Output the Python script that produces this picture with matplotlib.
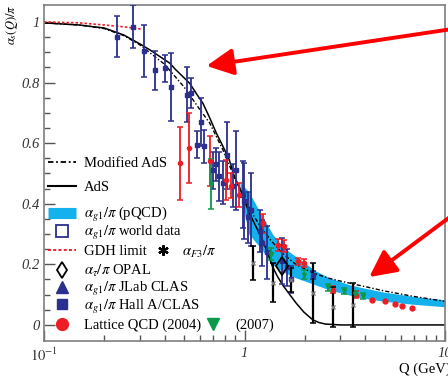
import numpy as np
import matplotlib.pyplot as plt
from matplotlib.lines import Line2D
from matplotlib.legend import Legend

plt.rcParams['font.family'] = ['Liberation Serif', 'DejaVu Sans']
plt.rcParams['mathtext.fontset'] = 'stix'

# curvas AdS
ads_q = [0.1, 0.15, 0.2, 0.25, 0.3, 0.337, 0.424, 0.45, 0.532, 0.58, 0.62, 0.67, 0.724, 0.78,
         0.84, 0.89, 0.95, 1.055, 1.14, 1.23, 1.3, 1.38, 1.46, 1.55, 1.66, 1.81, 1.98, 2.19,
         2.35, 2.53, 3.0, 10.0]
ads_v = [0.997, 0.99, 0.98, 0.957, 0.928, 0.908, 0.864, 0.845, 0.798, 0.76, 0.732, 0.684, 0.633,
         0.59, 0.545, 0.49, 0.45, 0.37, 0.325, 0.28, 0.24, 0.192, 0.16, 0.132, 0.105, 0.072,
         0.042, 0.017, 0.008, 0.003, 0.0, 0.0]

mod_q = [0.1, 0.15, 0.2, 0.25, 0.3, 0.4, 0.5, 0.6, 0.67, 0.78, 0.9, 1.0, 1.1, 1.2, 1.35, 1.55,
         1.8, 2.19, 2.6, 3.0, 3.5, 5.0, 7.0, 10.0]
mod_v = [0.997, 0.99, 0.978, 0.955, 0.925, 0.86, 0.785, 0.71, 0.667, 0.578, 0.48, 0.415, 0.365,
         0.325, 0.28, 0.236, 0.2, 0.172, 0.155, 0.145, 0.135, 0.112, 0.094, 0.078]

# banda pQCD
band_q = [0.95, 1.05, 1.2, 1.38, 1.55, 1.81, 2.27, 2.66, 3.33, 3.74, 5.0, 7.0, 10.0]
band_hi = [0.47, 0.44, 0.37, 0.30, 0.258, 0.225, 0.178, 0.155, 0.133, 0.125, 0.108, 0.094, 0.083]
band_lo = [0.44, 0.30, 0.255, 0.20, 0.176, 0.155, 0.132, 0.115, 0.099, 0.09, 0.078, 0.068, 0.06]

# limite GDH
gdh_q = [0.1, 0.15, 0.2, 0.25, 0.309]
gdh_v = [1.0, 0.997, 0.99, 0.984, 0.976]

# datos alpha_g1 (world data, CLAS, Hall A)
blue_q = [0.232, 0.278, 0.315, 0.358, 0.403, 0.43, 0.514, 0.538, 0.577, 0.61, 0.63, 0.695, 0.72,
          0.75, 0.78, 0.82, 0.875, 0.91, 0.98, 0.99, 1.04, 1.08, 1.19, 1.22, 1.29, 1.53, 1.62,
          1.71, 2.19]
blue_v = [0.951, 0.985, 0.905, 0.84, 0.847, 0.785, 0.76, 0.765, 0.595, 0.67, 0.59, 0.51, 0.53,
          0.49, 0.47, 0.56, 0.46, 0.51, 0.43, 0.41, 0.355, 0.38, 0.31, 0.27, 0.24, 0.21, 0.19,
          0.15, 0.165]
blue_e = [0.068, 0.07, 0.085, 0.063, 0.045, 0.113, 0.09, 0.05, 0.045, 0.08, 0.055, 0.06, 0.055,
          0.08, 0.07, 0.11, 0.07, 0.13, 0.11, 0.125, 0.085, 0.12, 0.07, 0.077, 0.088, 0.076, 0.06,
          0.044, 0.014]

# lattice QCD 2004
red_q = [0.475, 0.53, 0.67, 0.81, 0.86, 0.94, 1.23, 1.47, 1.58, 1.84, 1.99, 2.75, 3.59]
red_v = [0.534, 0.583, 0.54, 0.48, 0.46, 0.43, 0.335, 0.265, 0.26, 0.21, 0.204, 0.116, 0.1]
red_e = [0.12, 0.115, 0.083, 0.066, 0.04, 0.04, 0.03, 0.02, 0.02, 0.012, 0.012, 0.012, 0.012]
red2_q = [4.34, 5.03, 5.64, 6.1, 6.88]
red2_v = [0.0825, 0.079, 0.069, 0.064, 0.056]

# lattice QCD 2007
green_q = [0.68, 1.35, 1.99, 2.6, 3.14, 3.56, 3.88]
green_v = [0.465, 0.235, 0.165, 0.124, 0.112, 0.102, 0.094]
green_e = [0.083, 0.02, 0.015, 0.012, 0.01, 0.01, 0.01]

# alpha_F3
f3_q = [1.1, 1.38, 1.71, 2.19, 2.75, 3.46]
f3_v = [0.204, 0.14, 0.149, 0.105, 0.06, 0.066]
f3_e = [0.055, 0.065, 0.04, 0.1, 0.066, 0.072]

# OPAL
opal_q = [1.54]
opal_v = [0.195]

# flechas rojas (punta en datos)
arrow_tips = [(0.647, 0.855), (4.19, 0.158)]
arrow_tails = [(1.01, 0.923), (1.01, 0.428)]

navy = '#2b2f8e'
red = '#ee1c25'
green = '#0a9a48'
cyan = '#14b1ec'
asterisk = (6, 2, 0)

fig = plt.figure(figsize=(4.48, 3.76), dpi=100)
ax = fig.add_axes([44/448, 35/376, 401/448, 336/376])
ax.set_xscale('log')
ax.set_xlim(0.1, 10)
ax.set_ylim(-0.053, 1.056)

ax.fill_between(band_q, band_lo, band_hi, color=cyan, lw=0, zorder=1)
ax.plot(ads_q, ads_v, color='black', lw=1.1, zorder=2)
ax.plot(mod_q, mod_v, color='black', lw=1.0, ls=(0, (3, 1.5, 1, 1.5)), zorder=2)
ax.plot(gdh_q, gdh_v, color=red, lw=1.2, ls=(0, (1.5, 1.2)), zorder=2)

ek = dict(ls='none', capsize=2.5, capthick=1.1, elinewidth=1.3)
ax.errorbar(blue_q, blue_v, yerr=blue_e, fmt='s', ms=2.5, color=navy, zorder=4, **ek)
ax.errorbar(red_q, red_v, yerr=red_e, fmt='o', ms=3, color=red, zorder=4, **ek)
ax.plot(red2_q, red2_v, 'o', ms=3.5, color=red, zorder=4)
ax.errorbar(green_q, green_v, yerr=green_e, fmt='v', ms=3, color=green, zorder=4, **ek)
ax.errorbar(f3_q, f3_v, yerr=f3_e, fmt='x', ms=3, color='black', mec='#777777', zorder=4,
            **dict(ek, elinewidth=1.6))
ax.plot(opal_q, opal_v, 'd', ms=9.5, mfc='none', mec='black', mew=1.3, zorder=5)

for tip, tail in zip(arrow_tips, arrow_tails):
    ax.annotate('', xy=tip, xycoords='data', xytext=tail, textcoords='figure fraction',
                arrowprops=dict(arrowstyle='-|>,head_length=0.9,head_width=0.45',
                                color='#ff0000', lw=2.8, mutation_scale=18,
                                shrinkA=0, shrinkB=0),
                annotation_clip=False, zorder=6)

# ejes
for s in ax.spines.values():
    s.set_color('#7f7f7f')
    s.set_linewidth(1.2)
ax.set_yticks([0, 0.2, 0.4, 0.6, 0.8, 1.0])
ax.set_yticklabels(['0', '0.2', '0.4', '0.6', '0.8', '1'])
ax.set_yticks(np.arange(0, 1.05, 0.05), minor=True)
ax.set_xticks([0.1, 1, 10])
ax.set_xticklabels([r'$\mathit{10}^{\mathit{-1}}$', '1', '10'])
ax.tick_params(which='both', direction='in', color='#555555', right=False, top=False)
ax.tick_params(which='major', length=8, width=1, labelsize=10.5, pad=4)
ax.tick_params(which='minor', length=4.5, width=1)
ax.tick_params(axis='y', pad=3)
for lab in ax.get_yticklabels() + ax.get_xticklabels():
    lab.set_fontstyle('italic')
    lab.set_color('#333333')

ax.set_ylabel(r'$\alpha_s(Q)/\pi$', fontsize=9, loc='top')
ax.yaxis.set_label_coords(-0.06, 1.0)
ax.set_xlabel('Q (GeV)', fontsize=10.5)
ax.xaxis.set_label_coords(1.015, -0.065)
ax.xaxis.label.set_horizontalalignment('right')

# leyenda: una fila por entrada
leg_handles = [
    Line2D([], [], color='black', lw=1.3, ls=(0, (3, 1.5, 1, 1.5))),
    Line2D([], [], color='black', lw=1.5),
    Line2D([], [], color=cyan, lw=8, solid_capstyle='butt'),
    Line2D([], [], ls='none', marker='s', ms=8.5, mfc='white', mec=navy, mew=1.3),
    Line2D([], [], color=red, lw=1.4, ls=(0, (1.5, 1.2))),
    Line2D([], [], ls='none', marker='d', ms=8.5, mfc='white', mec='black', mew=1.3),
    Line2D([], [], ls='none', marker='^', ms=9, color=navy),
    Line2D([], [], ls='none', marker='s', ms=7.5, color=navy),
    Line2D([], [], ls='none', marker='o', ms=8.5, color=red),
    Line2D([], [], ls='none', marker=asterisk, ms=7.5, mew=1.6, color='black'),
    Line2D([], [], ls='none', marker='v', ms=9, color=green),
]
leg_labels = [
    'Modified AdS',
    'AdS',
    r'$\alpha_{g1}/\pi$ (pQCD)',
    r'$\alpha_{g1}/\pi$ world data',
    'GDH limit',
    r'$\alpha_\tau/\pi$ OPAL',
    r'$\alpha_{g1}/\pi$ JLab CLAS',
    r'$\alpha_{g1}/\pi$ Hall A/CLAS',
    'Lattice QCD (2004)',
    r'$\alpha_{F3}/\pi$',
    '(2007)',
]
# posicion de cada fila (pixeles de la figura) y largo del simbolo
leg_x = [48, 48, 48, 48, 48, 48, 48, 48, 48, 152, 199.5]
leg_y = [163, 187.5, 215, 233.5, 251.5, 271, 289, 306.5, 325.5, 251.5, 325.5]
leg_len = [1.9] * 9 + [1.5, 1.9]

for h, lab, xp, yp, hl in zip(leg_handles, leg_labels, leg_x, leg_y, leg_len):
    lg = Legend(ax, [h], [lab], loc='center left',
                bbox_to_anchor=((xp - 44) / 401, (341 - yp) / 336),
                frameon=False, fontsize=10.5, handlelength=hl, handletextpad=0.55,
                borderpad=0, borderaxespad=0)
    ax.add_artist(lg)

fig.savefig('out.png', dpi=100)
